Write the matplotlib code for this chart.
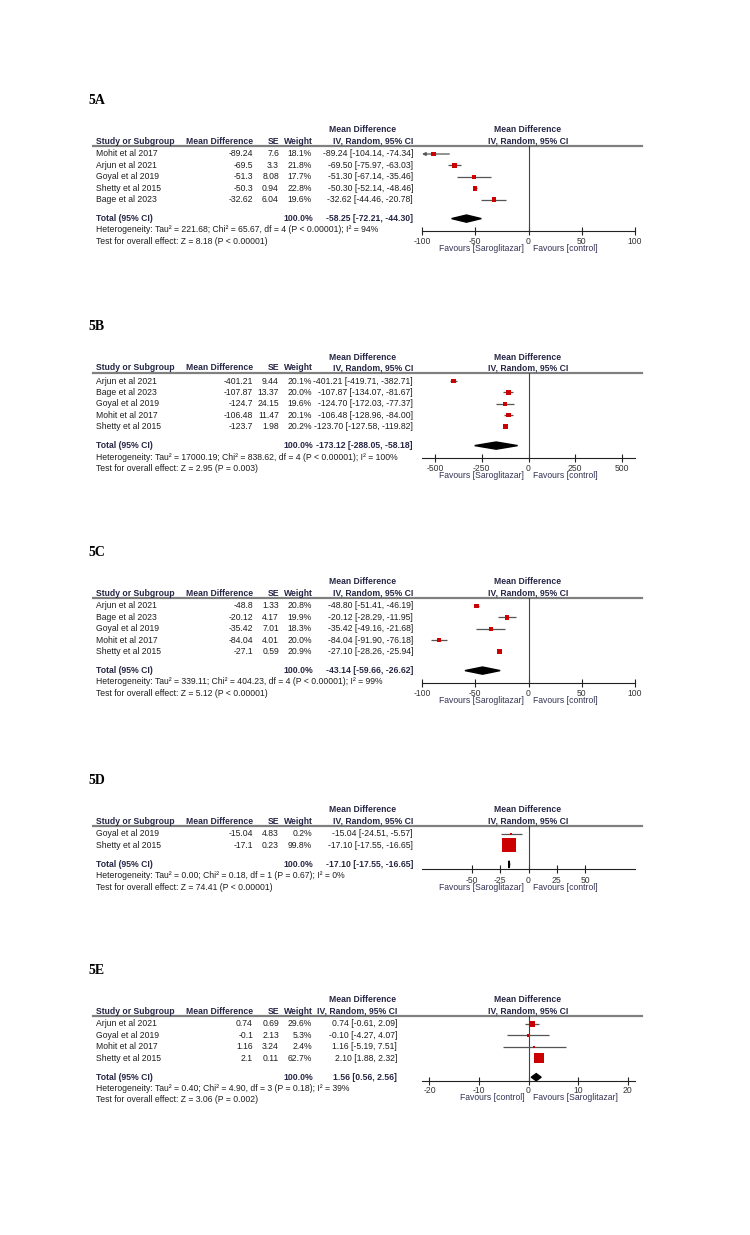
import numpy as np
import matplotlib.pyplot as plt
from matplotlib.patches import Polygon

plt.rcParams['font.family'] = ['Liberation Sans', 'DejaVu Sans']

# ---- 5A
a_study = ['Mohit et al 2017', 'Arjun et al 2021', 'Goyal et al 2019', 'Shetty et al 2015', 'Bage et al 2023']
a_md = [-89.24, -69.5, -51.3, -50.3, -32.62]
a_se = [7.6, 3.3, 8.08, 0.94, 6.04]
a_w = [18.1, 21.8, 17.7, 22.8, 19.6]
a_lo = [-104.14, -75.97, -67.14, -52.14, -44.46]
a_hi = [-74.34, -63.03, -35.46, -48.46, -20.78]
a_total = [-58.25, -72.21, -44.30]
a_het = ['221.68', '65.67', 4, '< 0.00001', 94]
a_z = ['8.18', '< 0.00001']
a_ticks = [-100, -50, 0, 50, 100]
a_fav = ['Favours [Saroglitazar]', 'Favours [control]']

# ---- 5B
b_study = ['Arjun et al 2021', 'Bage et al 2023', 'Goyal et al 2019', 'Mohit et al 2017', 'Shetty et al 2015']
b_md = [-401.21, -107.87, -124.7, -106.48, -123.7]
b_se = [9.44, 13.37, 24.15, 11.47, 1.98]
b_w = [20.1, 20.0, 19.6, 20.1, 20.2]
b_lo = [-419.71, -134.07, -172.03, -128.96, -127.58]
b_hi = [-382.71, -81.67, -77.37, -84.00, -119.82]
b_total = [-173.12, -288.05, -58.18]
b_het = ['17000.19', '838.62', 4, '< 0.00001', 100]
b_z = ['2.95', '= 0.003']
b_ticks = [-500, -250, 0, 250, 500]
b_fav = ['Favours [Saroglitazar]', 'Favours [control]']

# ---- 5C
c_study = ['Arjun et al 2021', 'Bage et al 2023', 'Goyal et al 2019', 'Mohit et al 2017', 'Shetty et al 2015']
c_md = [-48.8, -20.12, -35.42, -84.04, -27.1]
c_se = [1.33, 4.17, 7.01, 4.01, 0.59]
c_w = [20.8, 19.9, 18.3, 20.0, 20.9]
c_lo = [-51.41, -28.29, -49.16, -91.90, -28.26]
c_hi = [-46.19, -11.95, -21.68, -76.18, -25.94]
c_total = [-43.14, -59.66, -26.62]
c_het = ['339.11', '404.23', 4, '< 0.00001', 99]
c_z = ['5.12', '< 0.00001']
c_ticks = [-100, -50, 0, 50, 100]
c_fav = ['Favours [Saroglitazar]', 'Favours [control]']

# ---- 5D
d_study = ['Goyal et al 2019', 'Shetty et al 2015']
d_md = [-15.04, -17.1]
d_se = [4.83, 0.23]
d_w = [0.2, 99.8]
d_lo = [-24.51, -17.55]
d_hi = [-5.57, -16.65]
d_total = [-17.10, -17.55, -16.65]
d_het = ['0.00', '0.18', 1, '= 0.67', 0]
d_z = ['74.41', '< 0.00001']
d_ticks = [-50, -25, 0, 25, 50]
d_fav = ['Favours [Saroglitazar]', 'Favours [control]']

# ---- 5E
e_study = ['Arjun et al 2021', 'Goyal et al 2019', 'Mohit et al 2017', 'Shetty et al 2015']
e_md = [0.74, -0.1, 1.16, 2.1]
e_se = [0.69, 2.13, 3.24, 0.11]
e_w = [29.6, 5.3, 2.4, 62.7]
e_lo = [-0.61, -4.27, -5.19, 1.88]
e_hi = [2.09, 4.07, 7.51, 2.32]
e_total = [1.56, 0.56, 2.56]
e_het = ['0.40', '4.90', 3, '= 0.18', 39]
e_z = ['3.06', '= 0.002']
e_ticks = [-20, -10, 0, 10, 20]
e_fav = ['Favours [control]', 'Favours [Saroglitazar]']

W, H = 750, 1235
fig = plt.figure(figsize=(7.5, 12.35), dpi=100)
bg = fig.add_axes([0, 0, 1, 1])
bg.set_xlim(0, W)
bg.set_ylim(H, 0)
bg.axis('off')

FS = 6.2
TXT = '#1e1e1e'
HDR = '#262645'
RED = '#cc0000'
ROW = 11.4
PX = (422, 635)


def panel(tag, top, study, md, se, w, lo, hi, total, het, z, ticks, xlim,
          ci_x=413, ax_off=12, pad=1.5, fav_off=-13):
    bg.text(88, top, tag, fontsize=10, fontweight='bold', family='Liberation Serif', va='center')
    y_h1, y_h2, y_line, y0 = top + 30, top + 41, top + 46, top + 54
    n = len(study)
    y_tot = y0 + ROW * (n - 1) + 19
    y_axis = y_tot + ax_off

    # headers
    hk = dict(fontsize=FS, fontweight='bold', color=HDR, va='center')
    bg.text(96, y_h2, 'Study or Subgroup', **hk)
    bg.text(253, y_h2, 'Mean Difference', ha='right', **hk)
    bg.text(279, y_h2, 'SE', ha='right', **hk)
    bg.text(313, y_h2, 'Weight', ha='right', **hk)
    bg.text(363, y_h1, 'Mean Difference', ha='center', **hk)
    bg.text(ci_x, y_h2, 'IV, Random, 95% CI', ha='right', **hk)
    bg.text(528, y_h1, 'Mean Difference', ha='center', **hk)
    bg.text(528, y_h2, 'IV, Random, 95% CI', ha='center', **hk)
    bg.plot([93, 642], [y_line, y_line], color='#808080', lw=1.6)

    # study rows
    tk = dict(fontsize=FS, color=TXT, va='center')
    ys = [y0 + ROW * i for i in range(n)]
    for i in range(n):
        bg.text(96, ys[i], study[i], **tk)
        bg.text(253, ys[i], f'{md[i]:g}', ha='right', **tk)
        bg.text(279, ys[i], f'{se[i]:g}', ha='right', **tk)
        bg.text(312, ys[i], f'{w[i]:.1f}%', ha='right', **tk)
        bg.text(ci_x, ys[i], f'{md[i]:.2f} [{lo[i]:.2f}, {hi[i]:.2f}]', ha='right', **tk)

    bg.text(96, y_tot, 'Total (95% CI)', **hk)
    bg.text(313, y_tot, '100.0%', ha='right', **hk)
    bg.text(ci_x, y_tot, f'{total[0]:.2f} [{total[1]:.2f}, {total[2]:.2f}]', ha='right', **hk)
    bg.text(96, y_tot + ROW,
            f'Heterogeneity: Tau\u00b2 = {het[0]}; Chi\u00b2 = {het[1]}, df = {het[2]} (P {het[3]}); I\u00b2 = {het[4]}%', **tk)
    bg.text(96, y_tot + 2 * ROW, f'Test for overall effect: Z = {z[0]} (P {z[1]})', **tk)

    # forest
    ax = fig.add_axes([PX[0] / W, 1 - y_axis / H, (PX[1] - PX[0]) / W, (y_axis - y_line) / H])
    ax.set_xlim(xlim)
    ax.set_ylim(y_axis, y_line)
    ax.patch.set_alpha(0)
    for s in ['top', 'left', 'right']:
        ax.spines[s].set_visible(False)
    ax.spines['bottom'].set_color('#222222')
    ax.spines['bottom'].set_linewidth(0.8)
    ax.set_yticks([])
    ax.set_xticks(ticks)
    ax.set_xticklabels([str(t) for t in ticks])
    ax.tick_params(axis='x', direction='inout', length=6, width=0.8, labelsize=FS,
                   pad=pad, labelcolor='#333333', color='#222222')
    ax.axvline(0, color='#444444', lw=0.8)

    for i in range(n):
        l, h = max(lo[i], xlim[0]), min(hi[i], xlim[1])
        if lo[i] < xlim[0]:
            ax.annotate('', xy=(xlim[0], ys[i]), xytext=(h, ys[i]),
                        arrowprops=dict(arrowstyle='-|>', color='#555555', lw=0.9,
                                        mutation_scale=5, shrinkA=0, shrinkB=0))
        else:
            ax.plot([l, h], [ys[i], ys[i]], color='#555555', lw=0.9, solid_capstyle='butt')
    side = [(2.0 + 0.12 * v) * 0.72 for v in w]
    ax.scatter(md, ys, marker='s', s=[q ** 2 for q in side], color=RED, linewidths=0, zorder=3)

    ax.add_patch(Polygon([(total[1], y_tot), (total[0], y_tot - 3.6),
                          (total[2], y_tot), (total[0], y_tot + 3.6)],
                         closed=True, color='black', zorder=3, clip_on=False))
    return ax, fav_off


def favours(res, fav):
    ax, off = res
    ax.annotate(fav[0], xy=(0, 0), xycoords=('data', 'axes fraction'), xytext=(-3, off),
                textcoords='offset points', ha='right', va='center', fontsize=FS, color='#333355')
    ax.annotate(fav[1], xy=(0, 0), xycoords=('data', 'axes fraction'), xytext=(3, off),
                textcoords='offset points', ha='left', va='center', fontsize=FS, color='#333355')


favours(panel('5A', 100, a_study, a_md, a_se, a_w, a_lo, a_hi, a_total, a_het, a_z, a_ticks,
              (-100, 100)), a_fav)
favours(panel('5B', 327, b_study, b_md, b_se, b_w, b_lo, b_hi, b_total, b_het, b_z, b_ticks,
              (-570, 570)), b_fav)
favours(panel('5C', 552, c_study, c_md, c_se, c_w, c_lo, c_hi, c_total, c_het, c_z, c_ticks,
              (-100, 100)), c_fav)
favours(panel('5D', 780, d_study, d_md, d_se, d_w, d_lo, d_hi, d_total, d_het, d_z, d_ticks,
              (-94, 94), ax_off=5), d_fav)
favours(panel('5E', 970, e_study, e_md, e_se, e_w, e_lo, e_hi, e_total, e_het, e_z, e_ticks,
              (-21.5, 21.5), ci_x=397, ax_off=4, pad=0.5, fav_off=-11.5), e_fav)

fig.savefig('out.png', dpi=100, facecolor='white')
